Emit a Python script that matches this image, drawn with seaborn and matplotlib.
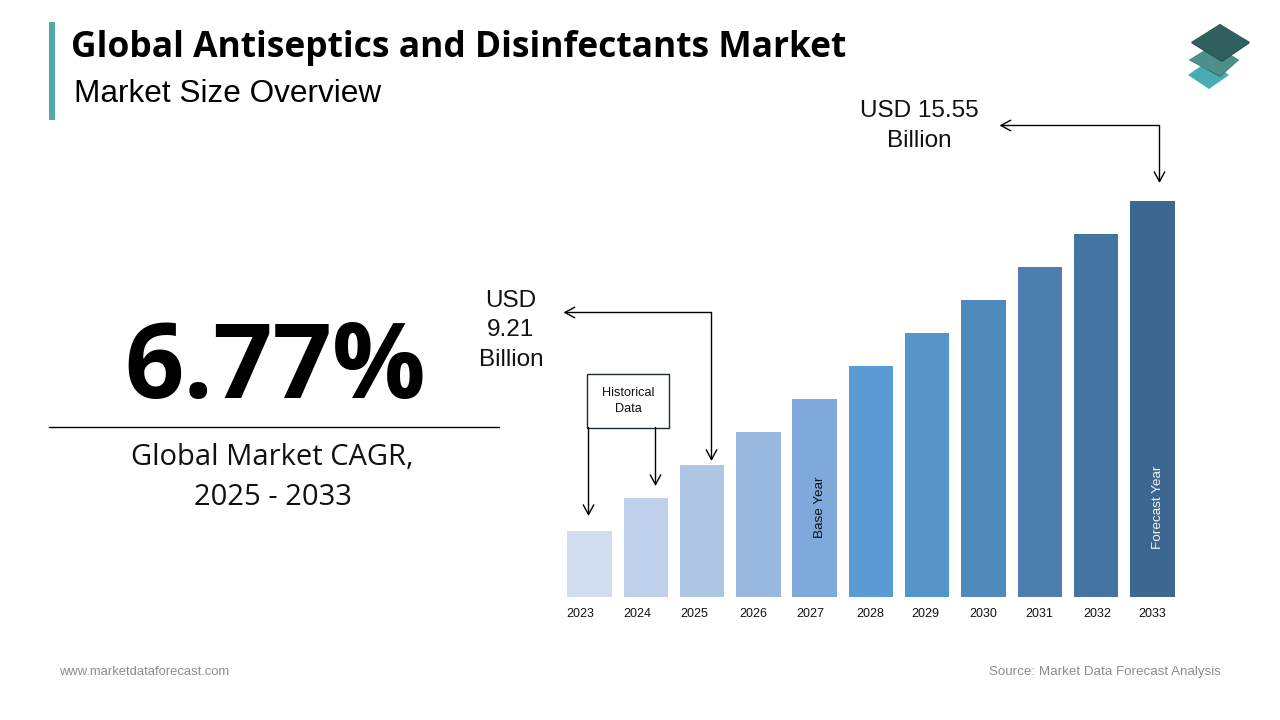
import matplotlib
matplotlib.use("Agg")
import matplotlib.pyplot as plt
from matplotlib.patches import Polygon, Rectangle
import pandas as pd
import seaborn as sns

years = ["2023", "2024", "2025", "2026", "2027", "2028", "2029", "2030", "2031", "2032", "2033"]
bar_heights = [66, 99, 132, 165, 198, 231, 264, 297, 330, 363, 396]
bar_colors = ["#D2DEEF", "#BFD1EA", "#AEC6E4", "#98B8DF", "#7EA9DA", "#5B9BD5",
              "#5693C9", "#508ABD", "#4B7FB0", "#4474A2", "#3D6690"]
title = "Global Antiseptics and Disinfectants Market"
subtitle = "Market Size Overview"
cagr = "6.77%"
cagr_label = "Global Market CAGR,\n2025 - 2033"
start_label = "USD\n9.21\nBillion"
end_label = "USD 15.55\nBillion"

W, H = 1280, 720
sns.set_style("white")
fig = plt.figure(figsize=(12.8, 7.2), dpi=100, facecolor="white")

# bar chart
L, R, B, T = 561.3, 1180.6, 597, 150
ax = fig.add_axes([L / W, 1 - B / H, (R - L) / W, (B - T) / H])
df = pd.DataFrame({"year": years, "height": bar_heights})
sns.barplot(data=df, x="year", y="height", hue="year", palette=bar_colors,
            width=0.79, saturation=1, legend=False, linewidth=0, ax=ax)
ax.set_xlim(-0.5, 10.5)
ax.set_ylim(0, B - T)
ax.set_xlabel("")
ax.set_ylabel("")
ax.set_yticks([])
label_shift = [-9, -8, -8, -5, -4, -1, -2, 0, -1, 1, 0]
ax.set_xticks([i + s / 56.3 for i, s in enumerate(label_shift)])
ax.set_xticklabels(years, family="Liberation Sans", fontsize=9, color="#111111")
ax.tick_params(axis="x", length=0, pad=7.7)
sns.despine(ax=ax, left=True, bottom=True, top=True, right=True)
ax.patch.set_alpha(0)

ax.text(4.1, 90, "Base Year", rotation=90, ha="center", va="center",
        family="Liberation Sans", fontsize=9.7, color="#111111")
ax.text(10.1, 90, "Forecast Year", rotation=90, ha="center", va="center",
        family="Liberation Sans", fontsize=9.7, color="#F0F4F8")

# overlay in pixel coordinates
ov = fig.add_axes([0, 0, 1, 1], facecolor="none")
ov.set_xlim(0, W)
ov.set_ylim(H, 0)
ov.axis("off")

ov.add_patch(Rectangle((49, 22), 6, 98, color="#4FA9A6", lw=0))
ov.text(71, 48, title, family="Open Sans", weight="bold", fontsize=25.45, va="center", ha="left", color="black")
ov.text(74, 94, subtitle, family="Liberation Sans", fontsize=22.7, va="center", ha="left", color="black")

ov.text(275, 371, cagr, family="Open Sans", weight="bold", fontsize=75, va="center", ha="center", color="black")
ov.plot([49, 499], [427, 427], color="black", lw=1)
ov.text(272.5, 477.5, cagr_label, family="Open Sans", fontsize=21, va="center", ha="center",
        color="#111111", linespacing=1.48)

ov.text(511, 330.5, start_label, family="Liberation Sans", fontsize=17.5, va="center", ha="center",
        color="#111111", linespacing=1.42)
ov.text(919, 126, end_label, family="Liberation Sans", fontsize=17.5, va="center", ha="center",
        color="#111111", linespacing=1.45)

# historical data box
ov.add_patch(Rectangle((587, 374), 82, 53.5, fc="white", ec="#1F2A33", lw=1))
ov.text(628, 401, "Historical\nData", family="Liberation Sans", fontsize=9.2, va="center", ha="center",
        color="#111111", linespacing=1.45)

arrow = dict(arrowstyle="->,head_length=0.7,head_width=0.38", color="black", lw=1, shrinkA=0, shrinkB=0)
ov.annotate("", xy=(588.5, 516), xytext=(588.5, 427.5), arrowprops=arrow)
ov.annotate("", xy=(655.5, 486), xytext=(655.5, 427.5), arrowprops=arrow)
ov.annotate("", xy=(711.5, 461), xytext=(711.5, 312.5), arrowprops=arrow)
ov.annotate("", xy=(563.5, 312.5), xytext=(711.5, 312.5), arrowprops=arrow)
ov.annotate("", xy=(1159.5, 183), xytext=(1159.5, 125.5), arrowprops=arrow)
ov.annotate("", xy=(999.5, 125.5), xytext=(1159.5, 125.5), arrowprops=arrow)

# logo
ov.add_patch(Polygon([(1208, 61), (1229, 75), (1209, 89), (1188, 75)], closed=True, fc="#46AEB0", ec="none"))
ov.add_patch(Polygon([(1214, 45), (1239, 60), (1220, 77), (1189, 60)], closed=True, fc="#2F5F5F", ec="none"))
ov.add_patch(Polygon([(1214, 44), (1239, 60), (1220, 76), (1189, 60)], closed=True, fc="#4F8F8B", ec="none"))
ov.add_patch(Polygon([(1220, 24), (1250, 43), (1222, 62), (1191, 43)], closed=True, fc="#1F4A4A", ec="none"))
ov.add_patch(Polygon([(1220, 24), (1250, 42), (1222, 61), (1191, 42)], closed=True, fc="#2F5F5F", ec="none"))

ov.text(59, 675, "www.marketdataforecast.com", family="Liberation Sans", fontsize=9.4, va="baseline", ha="left", color="#8C8C8C")
ov.text(1221, 675, "Source: Market Data Forecast Analysis", family="Liberation Sans", fontsize=9.6, va="baseline", ha="right", color="#8C8C8C")

fig.savefig("out.png", dpi=100)
